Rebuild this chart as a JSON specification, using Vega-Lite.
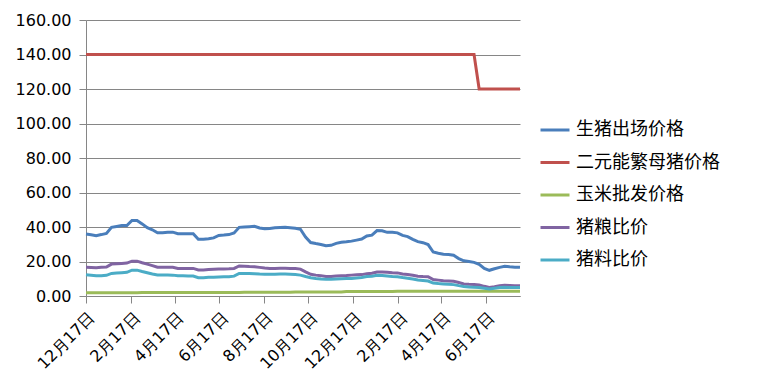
{
  "$schema": "https://vega.github.io/schema/vega-lite/v6.json",
  "width": 434,
  "height": 276,
  "autosize": {"type": "none"},
  "padding": {"left": 86, "top": 20, "right": 242, "bottom": 91},
  "background": "white",
  "config": {"view": {"stroke": null}, "font": "DejaVu Sans"},
  "data": {"values": [
    {"日期":"2019/12/17","生猪出场价格":35.9,"二元能繁母猪价格":140,"玉米批发价格":1.94,"猪粮比价":16.6,"猪料比价":12.3},
    {"日期":"2019/12/24","生猪出场价格":35.5,"二元能繁母猪价格":140,"玉米批发价格":1.94,"猪粮比价":16.5,"猪料比价":12.0},
    {"日期":"2019/12/31","生猪出场价格":35.0,"二元能繁母猪价格":140,"玉米批发价格":1.94,"猪粮比价":16.4,"猪料比价":11.7},
    {"日期":"2020/01/07","生猪出场价格":35.6,"二元能繁母猪价格":140,"玉米批发价格":1.94,"猪粮比价":16.6,"猪料比价":11.8},
    {"日期":"2020/01/14","生猪出场价格":36.3,"二元能繁母猪价格":140,"玉米批发价格":1.94,"猪粮比价":16.8,"猪料比价":12.0},
    {"日期":"2020/01/21","生猪出场价格":39.8,"二元能繁母猪价格":140,"玉米批发价格":1.94,"猪粮比价":18.5,"猪料比价":13.1},
    {"日期":"2020/01/28","生猪出场价格":40.3,"二元能繁母猪价格":140,"玉米批发价格":1.94,"猪粮比价":18.7,"猪料比价":13.3},
    {"日期":"2020/02/04","生猪出场价格":40.8,"二元能繁母猪价格":140,"玉米批发价格":1.94,"猪粮比价":18.9,"猪料比价":13.5},
    {"日期":"2020/02/11","生猪出场价格":40.8,"二元能繁母猪价格":140,"玉米批发价格":1.94,"猪粮比价":19.1,"猪料比价":13.7},
    {"日期":"2020/02/18","生猪出场价格":43.8,"二元能繁母猪价格":140,"玉米批发价格":1.94,"猪粮比价":20.2,"猪料比价":15.0},
    {"日期":"2020/02/25","生猪出场价格":43.8,"二元能繁母猪价格":140,"玉米批发价格":1.94,"猪粮比价":20.2,"猪料比价":15.0},
    {"日期":"2020/03/03","生猪出场价格":41.8,"二元能繁母猪价格":140,"玉米批发价格":1.97,"猪粮比价":19.3,"猪料比价":14.2},
    {"日期":"2020/03/10","生猪出场价格":39.6,"二元能繁母猪价格":140,"玉米批发价格":1.97,"猪粮比价":18.5,"猪料比价":13.5},
    {"日期":"2020/03/17","生猪出场价格":38.4,"二元能繁母猪价格":140,"玉米批发价格":1.97,"猪粮比价":17.6,"猪料比价":12.8},
    {"日期":"2020/03/24","生猪出场价格":36.7,"二元能繁母猪价格":140,"玉米批发价格":1.97,"猪粮比价":16.7,"猪料比价":12.2},
    {"日期":"2020/03/31","生猪出场价格":36.7,"二元能繁母猪价格":140,"玉米批发价格":1.97,"猪粮比价":16.6,"猪料比价":12.2},
    {"日期":"2020/04/07","生猪出场价格":37.0,"二元能繁母猪价格":140,"玉米批发价格":1.97,"猪粮比价":16.7,"猪料比价":12.2},
    {"日期":"2020/04/14","生猪出场价格":37.0,"二元能繁母猪价格":140,"玉米批发价格":1.97,"猪粮比价":16.6,"猪料比价":12.1},
    {"日期":"2020/04/21","生猪出场价格":36.1,"二元能繁母猪价格":140,"玉米批发价格":1.97,"猪粮比价":16.0,"猪料比价":11.8},
    {"日期":"2020/04/28","生猪出场价格":36.1,"二元能繁母猪价格":140,"玉米批发价格":1.97,"猪粮比价":16.0,"猪料比价":11.7},
    {"日期":"2020/05/05","生猪出场价格":36.1,"二元能繁母猪价格":140,"玉米批发价格":1.97,"猪粮比价":16.0,"猪料比价":11.6},
    {"日期":"2020/05/12","生猪出场价格":36.1,"二元能繁母猪价格":140,"玉米批发价格":2.05,"猪粮比价":16.0,"猪料比价":11.6},
    {"日期":"2020/05/19","生猪出场价格":32.9,"二元能繁母猪价格":140,"玉米批发价格":2.05,"猪粮比价":15.1,"猪料比价":10.6},
    {"日期":"2020/05/26","生猪出场价格":32.9,"二元能繁母猪价格":140,"玉米批发价格":2.05,"猪粮比价":15.1,"猪料比价":10.6},
    {"日期":"2020/06/02","生猪出场价格":33.2,"二元能繁母猪价格":140,"玉米批发价格":2.05,"猪粮比价":15.3,"猪料比价":10.8},
    {"日期":"2020/06/09","生猪出场价格":33.7,"二元能繁母猪价格":140,"玉米批发价格":2.05,"猪粮比价":15.5,"猪料比价":10.9},
    {"日期":"2020/06/16","生猪出场价格":35.1,"二元能繁母猪价格":140,"玉米批发价格":2.05,"猪粮比价":15.6,"猪料比价":11.0},
    {"日期":"2020/06/23","生猪出场价格":35.3,"二元能繁母猪价格":140,"玉米批发价格":2.05,"猪粮比价":15.7,"猪料比价":11.1},
    {"日期":"2020/06/30","生猪出场价格":35.6,"二元能繁母猪价格":140,"玉米批发价格":2.05,"猪粮比价":15.8,"猪料比价":11.2},
    {"日期":"2020/07/07","生猪出场价格":36.5,"二元能繁母猪价格":140,"玉米批发价格":2.05,"猪粮比价":16.0,"猪料比价":11.5},
    {"日期":"2020/07/14","生猪出场价格":39.8,"二元能繁母猪价格":140,"玉米批发价格":2.05,"猪粮比价":17.4,"猪料比价":13.1},
    {"日期":"2020/07/21","生猪出场价格":40.0,"二元能繁母猪价格":140,"玉米批发价格":2.2,"猪粮比价":17.3,"猪料比价":13.1},
    {"日期":"2020/07/28","生猪出场价格":40.2,"二元能繁母猪价格":140,"玉米批发价格":2.2,"猪粮比价":17.1,"猪料比价":13.0},
    {"日期":"2020/08/04","生猪出场价格":40.4,"二元能繁母猪价格":140,"玉米批发价格":2.2,"猪粮比价":17.0,"猪料比价":12.9},
    {"日期":"2020/08/11","生猪出场价格":39.4,"二元能繁母猪价格":140,"玉米批发价格":2.2,"猪粮比价":16.6,"猪料比价":12.7},
    {"日期":"2020/08/18","生猪出场价格":39.0,"二元能繁母猪价格":140,"玉米批发价格":2.2,"猪粮比价":16.2,"猪料比价":12.6},
    {"日期":"2020/08/25","生猪出场价格":39.1,"二元能繁母猪价格":140,"玉米批发价格":2.2,"猪粮比价":16.0,"猪料比价":12.6},
    {"日期":"2020/09/01","生猪出场价格":39.5,"二元能繁母猪价格":140,"玉米批发价格":2.2,"猪粮比价":16.0,"猪料比价":12.6},
    {"日期":"2020/09/08","生猪出场价格":39.7,"二元能繁母猪价格":140,"玉米批发价格":2.2,"猪粮比价":16.1,"猪料比价":12.7},
    {"日期":"2020/09/15","生猪出场价格":39.8,"二元能繁母猪价格":140,"玉米批发价格":2.2,"猪粮比价":16.1,"猪料比价":12.7},
    {"日期":"2020/09/22","生猪出场价格":39.6,"二元能繁母猪价格":140,"玉米批发价格":2.2,"猪粮比价":16.0,"猪料比价":12.6},
    {"日期":"2020/09/29","生猪出场价格":39.3,"二元能繁母猪价格":140,"玉米批发价格":2.35,"猪粮比价":15.9,"猪料比价":12.4},
    {"日期":"2020/10/06","生猪出场价格":38.7,"二元能繁母猪价格":140,"玉米批发价格":2.35,"猪粮比价":15.6,"猪料比价":12.1},
    {"日期":"2020/10/13","生猪出场价格":34.2,"二元能繁母猪价格":140,"玉米批发价格":2.35,"猪粮比价":14.0,"猪料比价":11.3},
    {"日期":"2020/10/20","生猪出场价格":31.0,"二元能繁母猪价格":140,"玉米批发价格":2.35,"猪粮比价":12.6,"猪料比价":10.6},
    {"日期":"2020/10/27","生猪出场价格":30.4,"二元能繁母猪价格":140,"玉米批发价格":2.35,"猪粮比价":12.1,"猪料比价":10.2},
    {"日期":"2020/11/03","生猪出场价格":29.9,"二元能繁母猪价格":140,"玉米批发价格":2.35,"猪粮比价":11.8,"猪料比价":9.9},
    {"日期":"2020/11/10","生猪出场价格":29.2,"二元能繁母猪价格":140,"玉米批发价格":2.35,"猪粮比价":11.3,"猪料比价":9.7},
    {"日期":"2020/11/17","生猪出场价格":29.4,"二元能繁母猪价格":140,"玉米批发价格":2.35,"猪粮比价":11.3,"猪料比价":9.7},
    {"日期":"2020/11/24","生猪出场价格":30.5,"二元能繁母猪价格":140,"玉米批发价格":2.35,"猪粮比价":11.6,"猪料比价":9.9},
    {"日期":"2020/12/01","生猪出场价格":31.2,"二元能繁母猪价格":140,"玉米批发价格":2.35,"猪粮比价":11.8,"猪料比价":10.0},
    {"日期":"2020/12/08","生猪出场价格":31.4,"二元能繁母猪价格":140,"玉米批发价格":2.55,"猪粮比价":11.9,"猪料比价":10.1},
    {"日期":"2020/12/15","生猪出场价格":31.8,"二元能繁母猪价格":140,"玉米批发价格":2.55,"猪粮比价":12.1,"猪料比价":10.2},
    {"日期":"2020/12/22","生猪出场价格":32.4,"二元能繁母猪价格":140,"玉米批发价格":2.55,"猪粮比价":12.3,"猪料比价":10.5},
    {"日期":"2020/12/29","生猪出场价格":33.0,"二元能繁母猪价格":140,"玉米批发价格":2.55,"猪粮比价":12.4,"猪料比价":10.7},
    {"日期":"2021/01/05","生猪出场价格":34.8,"二元能繁母猪价格":140,"玉米批发价格":2.55,"猪粮比价":12.9,"猪料比价":11.3},
    {"日期":"2021/01/12","生猪出场价格":35.3,"二元能繁母猪价格":140,"玉米批发价格":2.55,"猪粮比价":13.2,"猪料比价":11.5},
    {"日期":"2021/01/19","生猪出场价格":37.9,"二元能繁母猪价格":140,"玉米批发价格":2.55,"猪粮比价":13.9,"猪料比价":12.0},
    {"日期":"2021/01/26","生猪出场价格":37.8,"二元能繁母猪价格":140,"玉米批发价格":2.55,"猪粮比价":13.9,"猪料比价":11.9},
    {"日期":"2021/02/02","生猪出场价格":36.9,"二元能繁母猪价格":140,"玉米批发价格":2.55,"猪粮比价":13.7,"猪料比价":11.6},
    {"日期":"2021/02/09","生猪出场价格":36.9,"二元能繁母猪价格":140,"玉米批发价格":2.55,"猪粮比价":13.5,"猪料比价":11.3},
    {"日期":"2021/02/16","生猪出场价格":36.6,"二元能繁母猪价格":140,"玉米批发价格":2.7,"猪粮比价":13.4,"猪料比价":11.2},
    {"日期":"2021/02/23","生猪出场价格":35.1,"二元能繁母猪价格":140,"玉米批发价格":2.7,"猪粮比价":12.8,"猪料比价":10.7},
    {"日期":"2021/03/02","生猪出场价格":34.4,"二元能繁母猪价格":140,"玉米批发价格":2.7,"猪粮比价":12.5,"猪料比价":10.3},
    {"日期":"2021/03/09","生猪出场价格":32.8,"二元能繁母猪价格":140,"玉米批发价格":2.7,"猪粮比价":12.0,"猪料比价":9.8},
    {"日期":"2021/03/16","生猪出场价格":31.5,"二元能繁母猪价格":140,"玉米批发价格":2.7,"猪粮比价":11.5,"猪料比价":9.3},
    {"日期":"2021/03/23","生猪出场价格":30.9,"二元能繁母猪价格":140,"玉米批发价格":2.7,"猪粮比价":11.3,"猪料比价":9.0},
    {"日期":"2021/03/30","生猪出场价格":29.8,"二元能繁母猪价格":140,"玉米批发价格":2.7,"猪粮比价":11.2,"猪料比价":8.7},
    {"日期":"2021/04/06","生猪出场价格":25.5,"二元能繁母猪价格":140,"玉米批发价格":2.7,"猪粮比价":9.5,"猪料比价":7.5},
    {"日期":"2021/04/13","生猪出场价格":24.8,"二元能繁母猪价格":140,"玉米批发价格":2.7,"猪粮比价":9.2,"猪料比价":7.2},
    {"日期":"2021/04/20","生猪出场价格":24.2,"二元能繁母猪价格":140,"玉米批发价格":2.7,"猪粮比价":8.9,"猪料比价":7.0},
    {"日期":"2021/04/27","生猪出场价格":24.0,"二元能繁母猪价格":140,"玉米批发价格":2.75,"猪粮比价":8.7,"猪料比价":6.8},
    {"日期":"2021/05/04","生猪出场价格":23.6,"二元能繁母猪价格":140,"玉米批发价格":2.75,"猪粮比价":8.5,"猪料比价":6.6},
    {"日期":"2021/05/11","生猪出场价格":21.7,"二元能繁母猪价格":140,"玉米批发价格":2.75,"猪粮比价":7.8,"猪料比价":6.0},
    {"日期":"2021/05/18","生猪出场价格":20.4,"二元能繁母猪价格":140,"玉米批发价格":2.75,"猪粮比价":7.0,"猪料比价":5.5},
    {"日期":"2021/05/25","生猪出场价格":20.0,"二元能繁母猪价格":140,"玉米批发价格":2.75,"猪粮比价":6.8,"猪料比价":5.2},
    {"日期":"2021/06/01","生猪出场价格":19.5,"二元能繁母猪价格":140,"玉米批发价格":2.75,"猪粮比价":6.7,"猪料比价":5.1},
    {"日期":"2021/06/08","生猪出场价格":18.4,"二元能繁母猪价格":120,"玉米批发价格":2.75,"猪粮比价":6.4,"猪料比价":4.9},
    {"日期":"2021/06/15","生猪出场价格":16.0,"二元能繁母猪价格":120,"玉米批发价格":2.75,"猪粮比价":5.6,"猪料比价":4.5},
    {"日期":"2021/06/22","生猪出场价格":14.9,"二元能繁母猪价格":120,"玉米批发价格":2.75,"猪粮比价":5.0,"猪料比价":4.1},
    {"日期":"2021/06/29","生猪出场价格":15.8,"二元能繁母猪价格":120,"玉米批发价格":2.75,"猪粮比价":5.4,"猪料比价":4.5},
    {"日期":"2021/07/06","生猪出场价格":16.6,"二元能繁母猪价格":120,"玉米批发价格":2.75,"猪粮比价":5.9,"猪料比价":4.9},
    {"日期":"2021/07/13","生猪出场价格":17.2,"二元能繁母猪价格":120,"玉米批发价格":2.75,"猪粮比价":6.2,"猪料比价":5.1},
    {"日期":"2021/07/20","生猪出场价格":16.9,"二元能繁母猪价格":120,"玉米批发价格":2.75,"猪粮比价":6.1,"猪料比价":5.0},
    {"日期":"2021/07/27","生猪出场价格":16.7,"二元能繁母猪价格":120,"玉米批发价格":2.75,"猪粮比价":6.0,"猪料比价":5.0},
    {"日期":"2021/08/03","生猪出场价格":16.6,"二元能繁母猪价格":120,"玉米批发价格":2.75,"猪粮比价":6.0,"猪料比价":5.0}
  ]},
  "transform": [
    {"fold": ["生猪出场价格","二元能繁母猪价格","玉米批发价格","猪粮比价","猪料比价"], "as": ["系列","数值"]}
  ],
  "mark": {"type": "line", "strokeWidth": 3},
  "encoding": {
    "x": {
      "field": "日期", "type": "temporal",
      "scale": {"domain": [{"year":2019,"month":12,"date":17},{"year":2021,"month":8,"date":3}]},
      "axis": {
        "values": [
          {"year":2019,"month":12,"date":17},{"year":2020,"month":2,"date":17},{"year":2020,"month":4,"date":17},
          {"year":2020,"month":6,"date":17},{"year":2020,"month":8,"date":17},{"year":2020,"month":10,"date":17},
          {"year":2020,"month":12,"date":17},{"year":2021,"month":2,"date":17},{"year":2021,"month":4,"date":17},
          {"year":2021,"month":6,"date":17}
        ],
        "format": "%-m月%-d日",
        "labelAngle": -45, "labelAlign": "right", "labelBaseline": "top",
        "labelFontSize": 16, "labelColor": "black", "labelPadding": 6,
        "grid": false, "domainColor": "#868686", "tickColor": "#868686", "tickSize": 7,
        "title": null, "labelFlush": false, "labelOverlap": false
      }
    },
    "y": {
      "field": "数值", "type": "quantitative",
      "scale": {"domain": [0, 160]},
      "axis": {
        "values": [0,20,40,60,80,100,120,140,160],
        "format": ".2f",
        "labelFontSize": 16, "labelColor": "black", "labelPadding": 8,
        "gridColor": "#868686", "domainColor": "#868686", "tickColor": "#868686", "tickSize": 7,
        "title": null
      }
    },
    "color": {
      "field": "系列", "type": "nominal",
      "scale": {
        "domain": ["生猪出场价格","二元能繁母猪价格","玉米批发价格","猪粮比价","猪料比价"],
        "range": ["#4A7EBB","#C0504D","#9BBB59","#8064A2","#4BACC6"]
      },
      "legend": {
        "title": null, "orient": "none", "legendX": 453, "legendY": 94,
        "symbolType": "stroke", "symbolSize": 841, "symbolStrokeWidth": 3,
        "labelFont": "Noto Sans CJK SC", "labelFontSize": 18, "labelColor": "black",
        "labelOffset": 5, "rowPadding": 7.5, "labelLimit": 300
      }
    }
  }
}
